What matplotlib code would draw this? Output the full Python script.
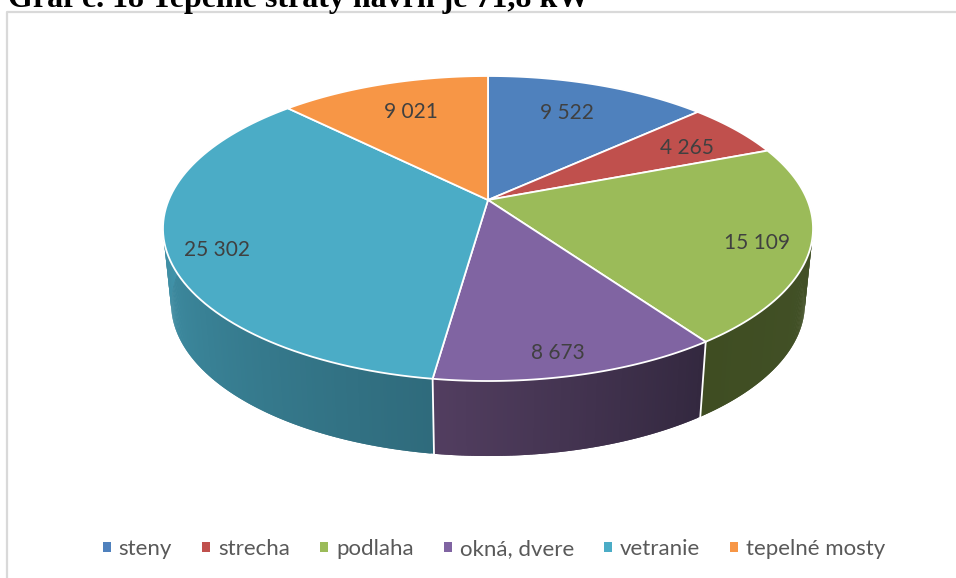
import matplotlib
matplotlib.use("Agg")
import matplotlib.pyplot as plt
from matplotlib.colors import to_rgb
from matplotlib.patches import Patch
import numpy as np

labels = ["steny", "strecha", "podlaha", "okná, dvere", "vetranie", "tepelné mosty"]
values = [9522, 4265, 15109, 8673, 25302, 9021]
title = "Graf č. 18 Tepelné straty navrh je 71,8 kW"

colors = ["#4F81BD", "#C0504D", "#9BBB59", "#8064A2", "#4BACC6", "#F79646"]
side_a = ["#2f4d71", "#733033", "#44532a", "#33283f", "#2f6b7c", "#945a2a"]
side_b = ["#2f4d71", "#733033", "#3f4d22", "#523e60", "#4296ad", "#945a2a"]
label_r = [0.68, 0.80, 0.84, 0.85, 0.85, 0.69]
label_dx = [0, -3, 0, -6, 0, -1]
label_dy = [-5, 5, 5, 9, 8, -4]

plt.rcParams["font.family"] = ["Lato", "DejaVu Sans"]

# perspective of the tilted disc, fitted on the picture (pixels)
cx, cy = 488, 200
sx, sy, k = 319.3, -109.8, 0.1869
depth, shrink = 75, 0.975


def project(theta, r=1.0):
    t = np.radians(theta)
    xx = r * np.sin(t)
    yy = r * np.cos(t)
    d = 1 + k * yy
    return cx + sx * xx / d, (cy + sy * yy) / d


def lower(x, y):
    return cx + (x - cx) * shrink, y + depth


fig = plt.figure(figsize=(9.56, 5.78), dpi=100)
ax = fig.add_axes([0, 0, 1, 1])
ax.set_xlim(0, 956)
ax.set_ylim(578, 0)
ax.axis("off")

# frame
ax.plot([7, 7, 956], [578, 12, 12], color="#d9d9d9", lw=1.6)
ax.text(8, 7, title, family="Liberation Serif", weight="bold", fontsize=23,
        color="black", va="baseline", ha="left")

fractions = np.array(values) / sum(values)
edges = np.concatenate([[0], np.cumsum(fractions) * 360])

# side wall, only the part facing the viewer
# strips overlap the next one so no seams show
for i in range(len(values)):
    a = max(edges[i], 85)
    b = min(edges[i + 1], 275)
    if b <= a:
        continue
    steps = np.linspace(a, b, int((b - a) * 2) + 2)
    c0 = np.array(to_rgb(side_a[i]))
    c1 = np.array(to_rgb(side_b[i]))
    for n in range(len(steps) - 1):
        m = min(n + 2, len(steps) - 1)
        arc = np.linspace(steps[n], steps[m], 4)
        x0, y0 = project(arc)
        x1, y1 = lower(x0, y0)
        col = c0 + (c1 - c0) * n / max(len(steps) - 2, 1)
        ax.fill(np.r_[x0, x1[::-1]], np.r_[y0, y1[::-1]], color=col, lw=0, zorder=2)

# white seams on the wall
for e in edges[1:-1]:
    if 90 < e < 270:
        x0, y0 = project(e)
        x1, y1 = lower(x0, y0)
        ax.plot([x0, x1], [y0, y1], color="white", lw=1.3, zorder=3)

# top of the pie
for i in range(len(values)):
    th = np.linspace(edges[i], edges[i + 1], 80)
    x, y = project(th)
    ax.fill(np.r_[cx, x], np.r_[cy, y], facecolor=colors[i], edgecolor="white",
            lw=1.3, joinstyle="round", zorder=4)

for i, v in enumerate(values):
    mid = (edges[i] + edges[i + 1]) / 2
    x, y = project(mid, label_r[i])
    ax.text(x + label_dx[i], y + label_dy[i], f"{v:,}".replace(",", " "), fontsize=15,
            color="#404040", ha="center", va="center", zorder=5)

handles = [Patch(facecolor=c, edgecolor="none") for c in colors]
fig.legend(handles, labels, loc="center", bbox_to_anchor=(494 / 956, 1 - 549 / 578), ncol=6,
           frameon=False, fontsize=16, labelcolor="#595959", handlelength=0.36,
           handleheight=0.36, handletextpad=0.36, columnspacing=1.35)

fig.savefig("out.png", dpi=100)
